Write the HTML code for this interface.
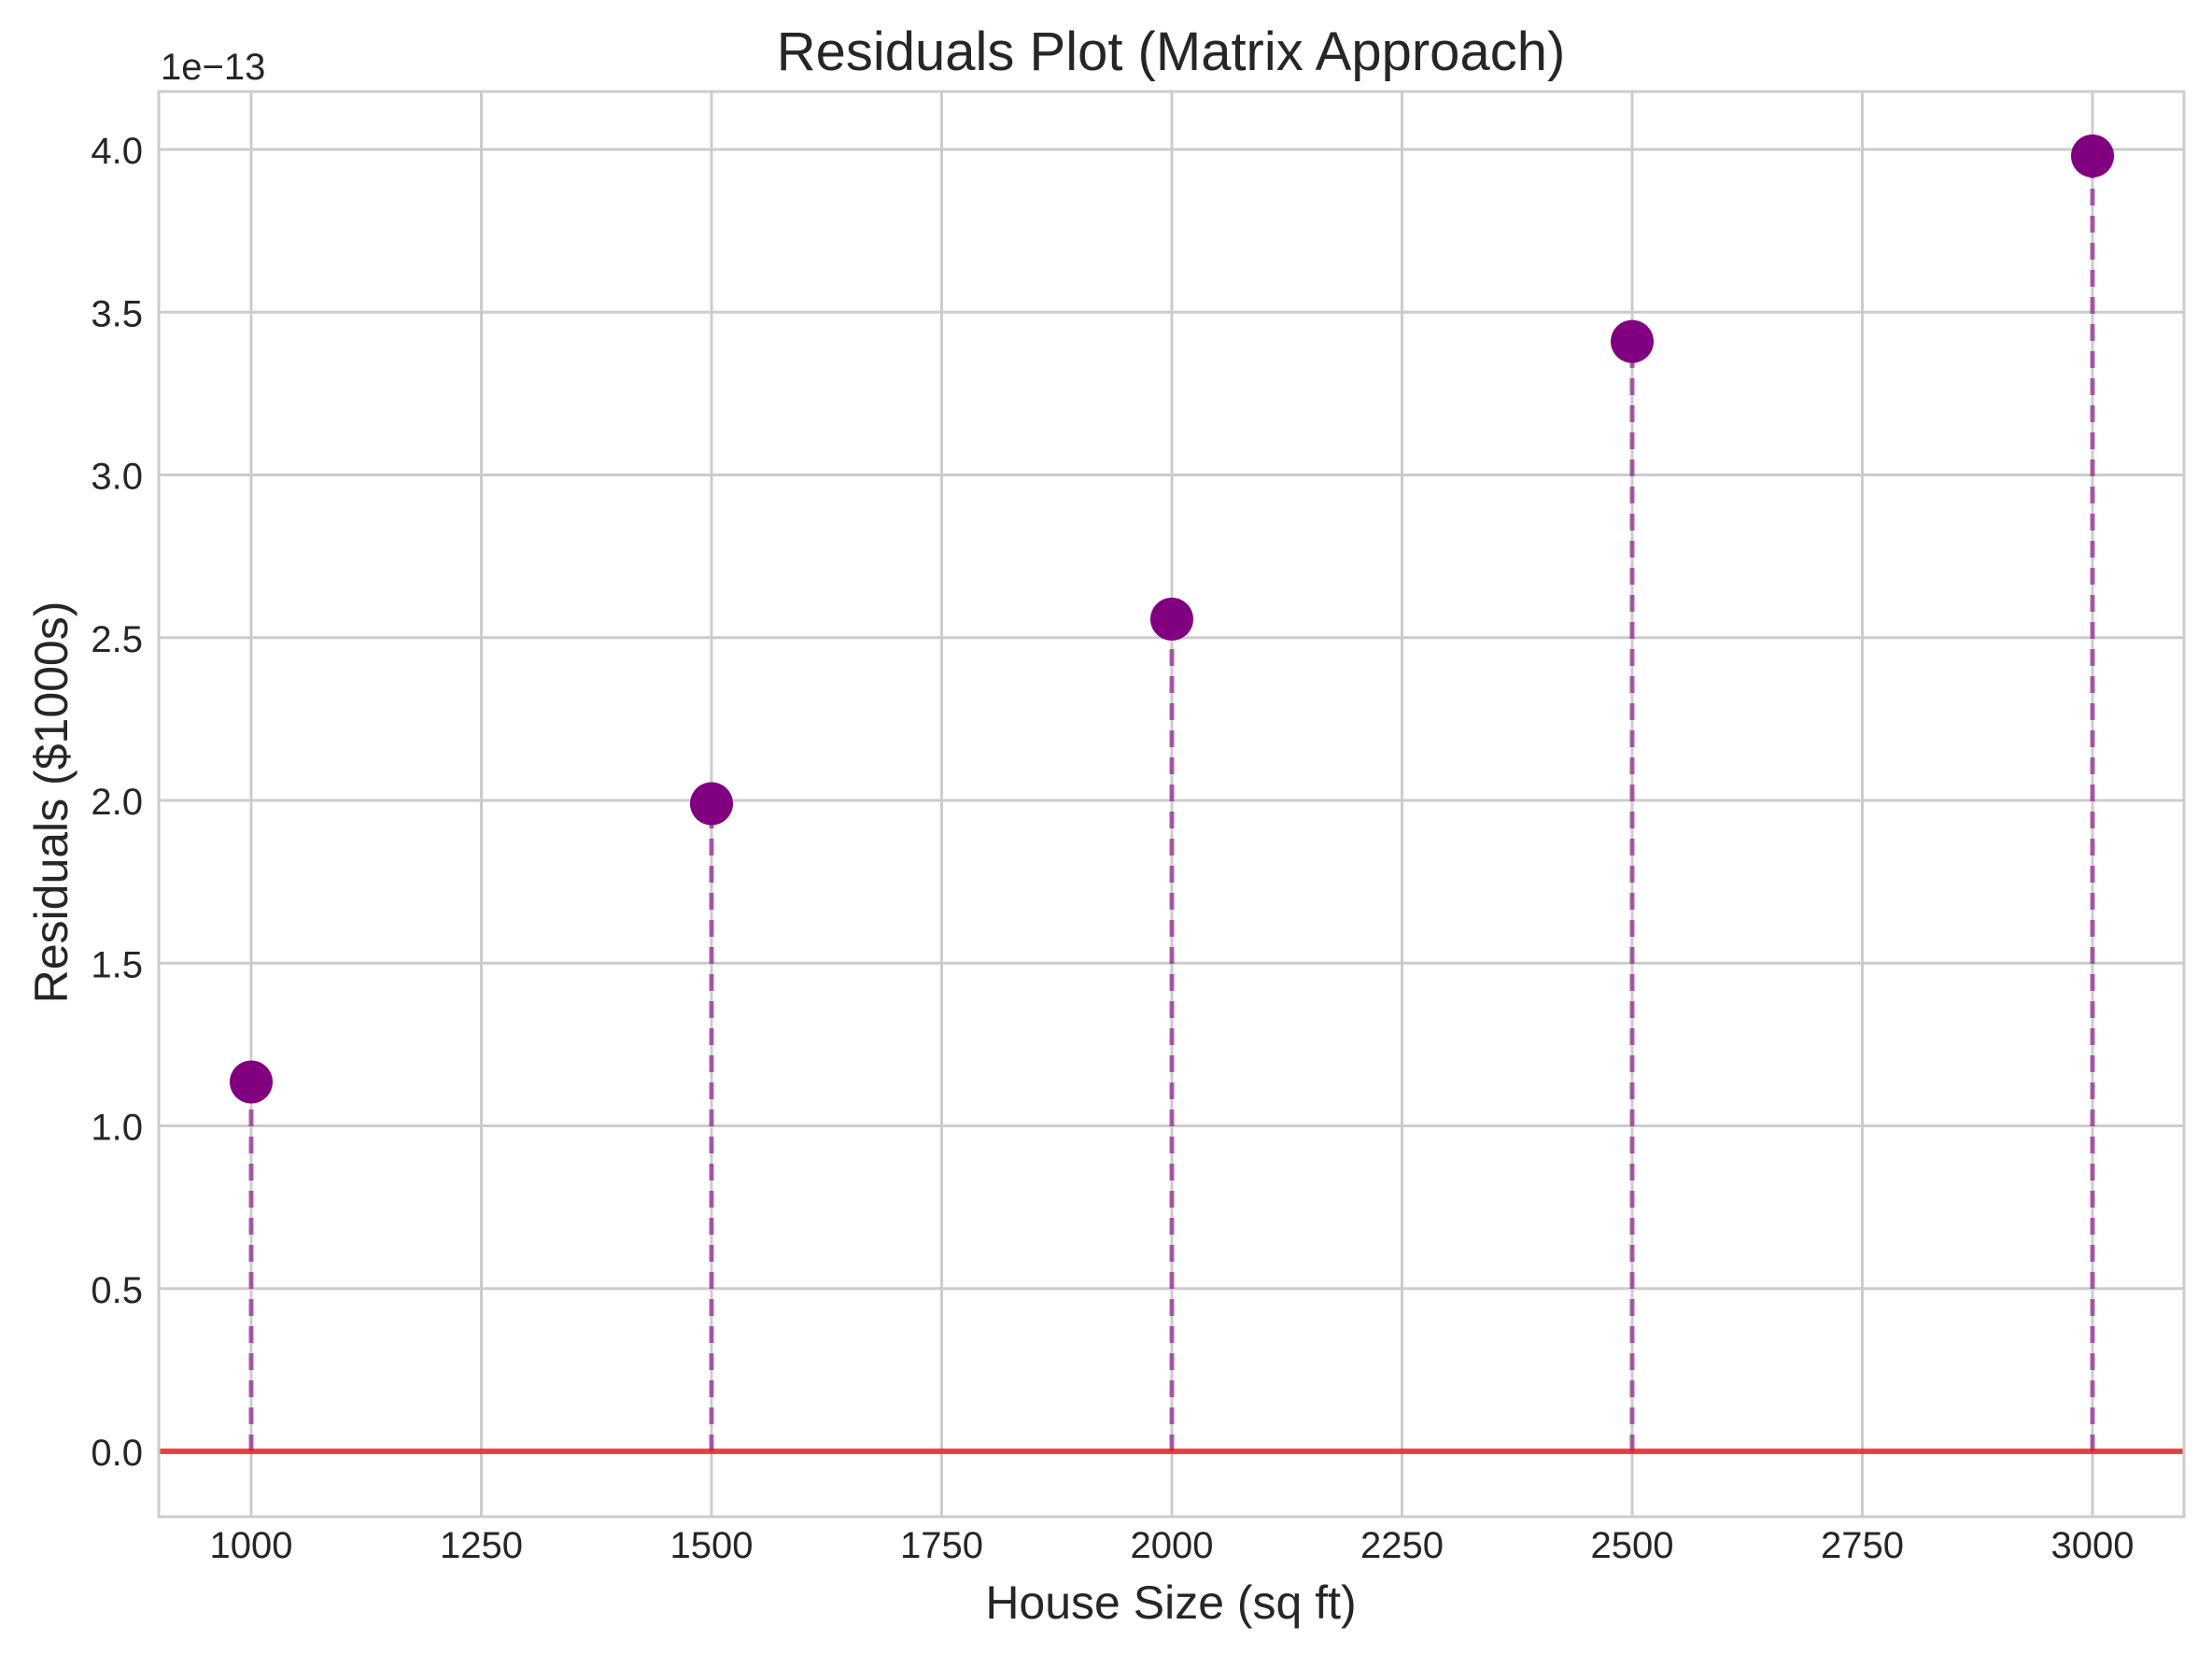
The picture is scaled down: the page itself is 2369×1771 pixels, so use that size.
<!DOCTYPE html>
<html><head><meta charset="utf-8"><style>
html,body{margin:0;padding:0;background:#fff;}
svg{display:block;font-family:"Liberation Sans",Arial,sans-serif;}
</style></head><body>
<svg id="chart" width="2369" height="1771" viewBox="0 0 2369 1771">
<rect width="2369" height="1771" fill="#fff"/>
<g id="grid"></g>
<g id="series"></g>
<rect x="170" y="98" width="2169" height="1526" fill="none" stroke="#cccccc" stroke-width="3"/>
<g id="ticks" fill="#262626" font-size="40"></g>
<text x="1254" y="75" text-anchor="middle" font-size="58" fill="#262626">Residuals Plot (Matrix Approach)</text>
<text x="1254" y="1733" text-anchor="middle" font-size="50" fill="#262626">House Size (sq ft)</text>
<text transform="translate(72,859) rotate(-90)" text-anchor="middle" font-size="50" fill="#262626">Residuals ($1000s)</text>
<text x="172" y="85" font-size="40" fill="#262626">1e−13</text>
</svg>
<script>
const houseSizes = [1000, 1500, 2000, 2500, 3000];
const residuals = [1.135, 1.99, 2.557, 3.41, 3.98];
const xTicks = [1000, 1250, 1500, 1750, 2000, 2250, 2500, 2750, 3000];
const yTicks = [0.0, 0.5, 1.0, 1.5, 2.0, 2.5, 3.0, 3.5, 4.0];

const NS = 'http://www.w3.org/2000/svg';
function xs(v){ return 269 + (v - 1000) * (2241 - 269) / 2000; }
function ys(v){ return 1554 - v * (1554 - 160) / 4; }
function mk(tag, attrs, parent){
  const e = document.createElementNS(NS, tag);
  for (const k in attrs) e.setAttribute(k, attrs[k]);
  parent.appendChild(e); return e;
}
const grid = document.getElementById('grid');
const ticks = document.getElementById('ticks');
const series = document.getElementById('series');
xTicks.forEach(t => {
  const l = mk('line', {x1: xs(t), x2: xs(t), y1: 98, y2: 1624, stroke: '#cccccc', 'stroke-width': 3}, grid);
  
  
  const tx = mk('text', {x: xs(t), y: 1668, 'text-anchor': 'middle'}, ticks);
  tx.textContent = t;
  
  
});
yTicks.forEach(t => {
  const l = mk('line', {x1: 170, x2: 2339, y1: ys(t), y2: ys(t), stroke: '#cccccc', 'stroke-width': 3}, grid);
  
  
  const tx = mk('text', {x: 153, y: ys(t) + 15, 'text-anchor': 'end'}, ticks);
  tx.textContent = t.toFixed(1);
  
  
});
houseSizes.forEach((h, i) => {
  const s = mk('line', {x1: xs(h), x2: xs(h), y1: ys(0), y2: ys(residuals[i]), stroke: 'rgba(128,0,128,0.6)', 'stroke-width': 5, 'stroke-dasharray': '18 11'}, series);
  
  
});
const zl = mk('line', {x1: 171, x2: 2338, y1: ys(0), y2: ys(0), stroke: 'rgba(240,20,20,0.78)', 'stroke-width': 6}, series);


houseSizes.forEach((h, i) => {
  const c = mk('circle', {cx: xs(h), cy: ys(residuals[i]), r: 23, fill: '#800080'}, series);
  
  
});
</script>
</body></html>
